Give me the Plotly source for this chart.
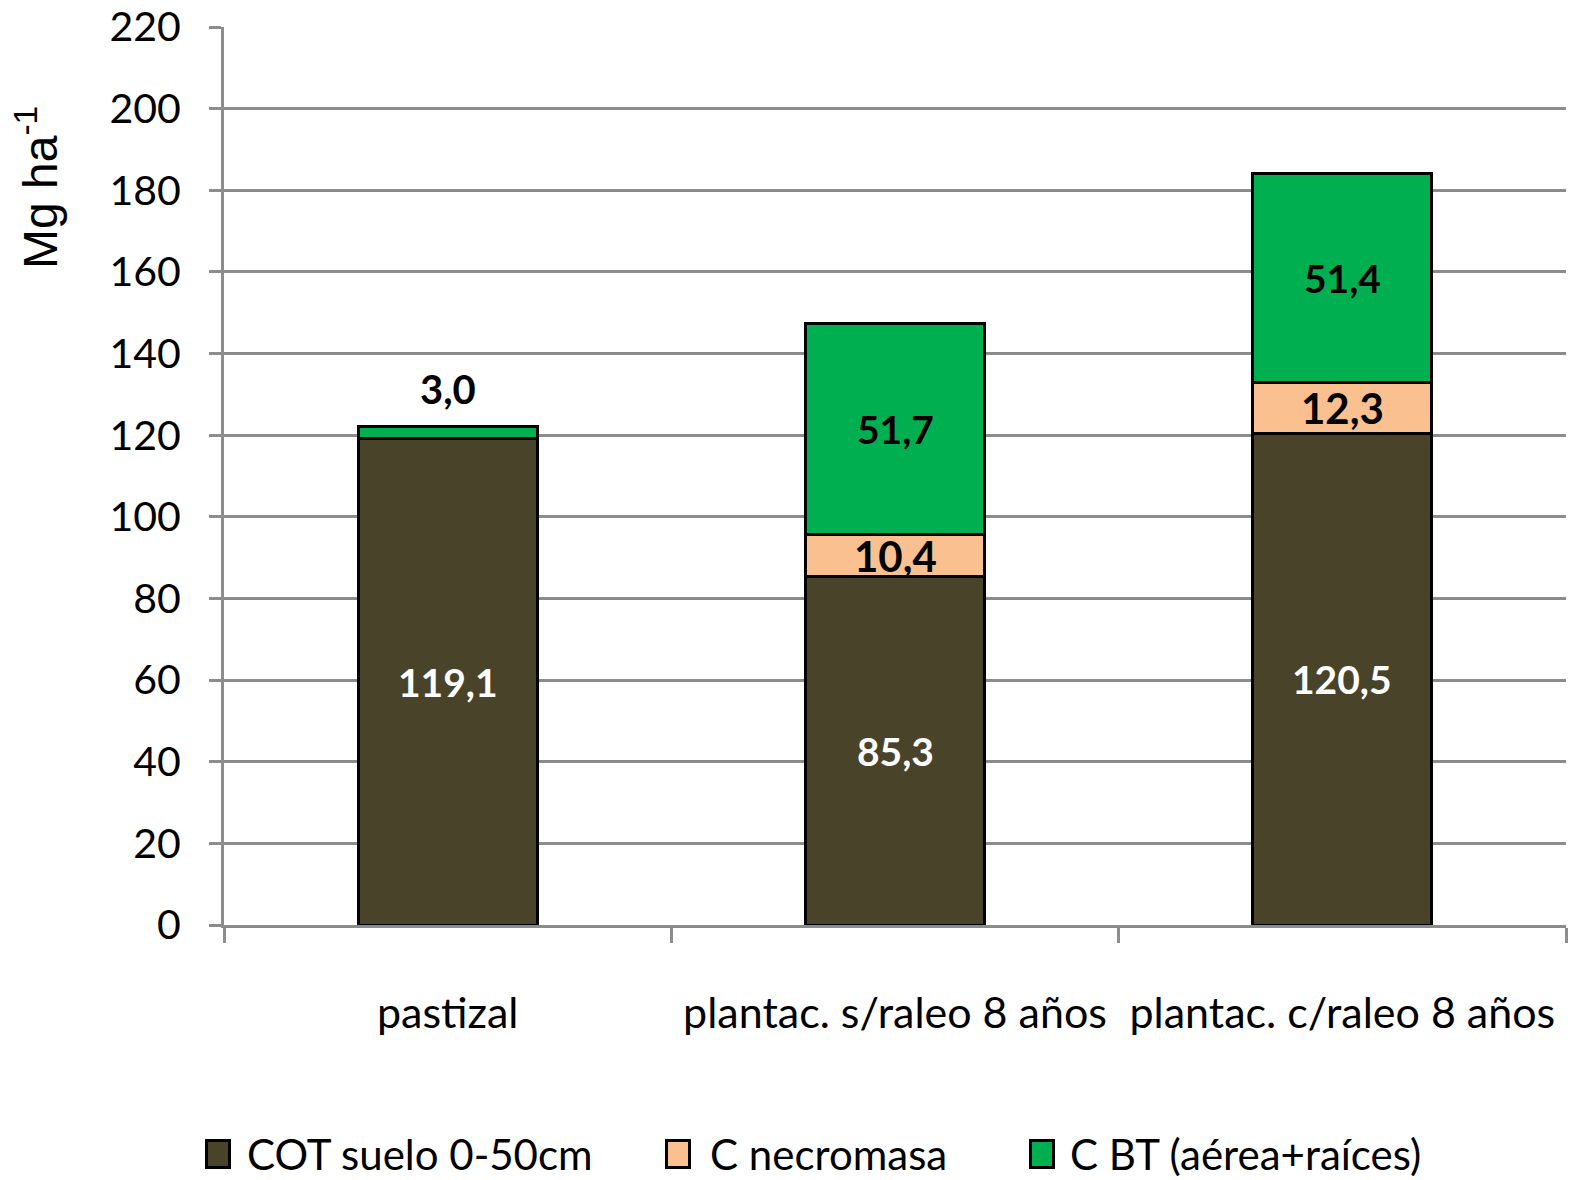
import plotly.graph_objects as go

categories = ["pastizal", "plantac. s/raleo 8 años", "plantac. c/raleo 8 años"]
cot_suelo = [119.1, 85.3, 120.5]
c_necromasa = [0.0, 10.4, 12.3]
c_bt = [3.0, 51.7, 51.4]
series_names = ["COT suelo 0-50cm", "C necromasa", "C BT (aérea+raíces)"]
series_colors = ["#494429", "#FAC090", "#00B050"]
y_ticks = list(range(0, 221, 20))

FONT = "Lato"
GRID = "#8C8C8C"

# plot area in pixels (for paper-coordinate helpers)
L, R, T, B = 224, 1566, 27, 925
def px(x):
    return (x - L) / (R - L)
def py(y):
    return (B - y) / (B - T)

fig = go.Figure()
for name, vals, col in zip(series_names, [cot_suelo, c_necromasa, c_bt], series_colors):
    fig.add_trace(go.Bar(
        x=categories, y=vals, name=name, width=0.4, showlegend=False,
        marker=dict(color=col, line=dict(color="black", width=3)),
    ))

def fmt(v):
    return f"{v:.1f}".replace(".", ",")

ann = []
for i, c in enumerate(categories):
    base = 0
    ann.append(dict(x=c, y=base + cot_suelo[i] / 2, text=fmt(cot_suelo[i]), showarrow=False,
                    font=dict(family=FONT, size=39, color="white", weight="bold")))
    base += cot_suelo[i]
    if c_necromasa[i] > 0:
        ann.append(dict(x=c, y=base + c_necromasa[i] / 2, text=fmt(c_necromasa[i]), showarrow=False,
                        font=dict(family=FONT, size=42, color="black", weight="bold")))
    base += c_necromasa[i]
    if c_bt[i] < 10:
        ann.append(dict(x=c, y=base + c_bt[i], text=fmt(c_bt[i]), showarrow=False,
                        yanchor="bottom", yshift=12,
                        font=dict(family=FONT, size=40, color="black", weight="bold")))
    else:
        ann.append(dict(x=c, y=base + c_bt[i] / 2, text=fmt(c_bt[i]), showarrow=False,
                        font=dict(family=FONT, size=39, color="black", weight="bold")))

# y-axis title
ann.append(dict(xref="paper", yref="paper", x=px(37), y=py(188), text="Mg ha<sup>-1</sup>",
                textangle=-90, showarrow=False, xanchor="center", yanchor="middle",
                font=dict(family="Liberation Sans", size=48, color="black")))

# manual legend (larger square keys like the reference)
legend_sym_x = [218, 678, 1042]
legend_txt_x = [245, 708, 1068]
leg_y = 1154
for name, col, sx, tx in zip(series_names, series_colors, legend_sym_x, legend_txt_x):
    ann.append(dict(xref="paper", yref="paper", x=px(sx), y=py(leg_y), text=" ",
                    showarrow=False, width=20, height=24, bgcolor=col,
                    bordercolor="black", borderwidth=3, borderpad=0,
                    xanchor="center", yanchor="middle"))
    ann.append(dict(xref="paper", yref="paper", x=px(tx), y=py(leg_y), text=name,
                    showarrow=False, xanchor="left", yanchor="middle",
                    font=dict(family=FONT, size=42, color="black")))

fig.update_layout(
    barmode="stack",
    width=1571, height=1180,
    margin=dict(l=L, r=1571 - R, t=T, b=1180 - B, autoexpand=False),
    paper_bgcolor="white", plot_bgcolor="white",
    showlegend=False,
    annotations=ann,
    font=dict(family=FONT, color="black"),
)
fig.update_yaxes(
    range=[0, 220], tickvals=y_ticks, showgrid=True, gridcolor=GRID, gridwidth=3,
    showline=True, linecolor=GRID, linewidth=3, ticks="outside", ticklen=12,
    tickcolor=GRID, tickwidth=3, tickfont=dict(family=FONT, size=41, color="black"),
    zeroline=False, ticklabelstandoff=20,
)
fig.update_xaxes(
    showline=True, linecolor=GRID, linewidth=3, ticks="outside", ticklen=15,
    tickcolor=GRID, tickwidth=3, tickson="boundaries", showgrid=False,
    tickfont=dict(family=FONT, size=43, color="black"), ticklabelstandoff=48,
)

fig.write_html("out.html", config={"displayModeBar": False},
               post_script="document.body.style.margin='0';")
